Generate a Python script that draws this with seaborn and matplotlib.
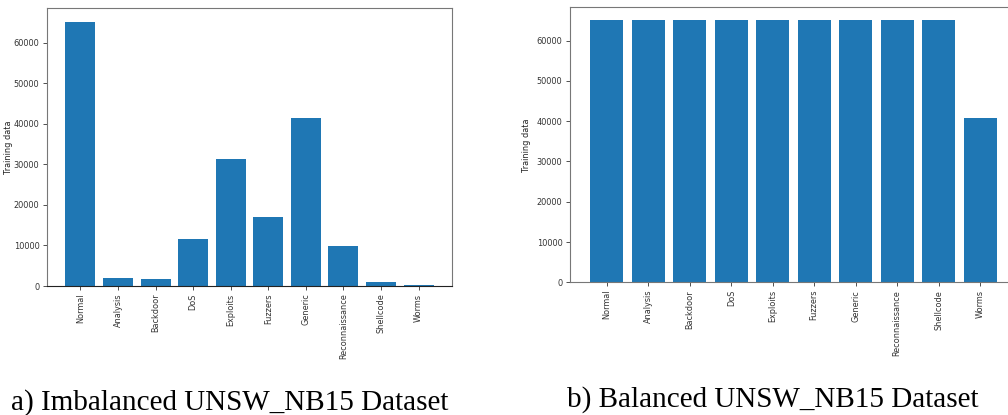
import matplotlib
matplotlib.use("Agg")
import matplotlib.pyplot as plt
import seaborn as sns
import pandas as pd

categories = ["Normal", "Analysis", "Backdoor", "DoS", "Exploits", "Fuzzers",
              "Generic", "Reconnaissance", "Shellcode", "Worms"]
imbalanced_counts = [65200, 1900, 1650, 11600, 31200, 17100, 41300, 9800, 1070, 170]
balanced_counts = [65000, 65000, 65000, 65000, 65000, 65000, 65000, 65000, 65000, 40900]
caption_a = "a) Imbalanced UNSW_NB15 Dataset"
caption_b = "b) Balanced UNSW_NB15 Dataset"
ylabel = "Training data"

BAR = "#1f77b4"

fig = plt.figure(figsize=(10.08, 4.15), dpi=100)
ax1 = fig.add_axes([47 / 1008, 1 - 286 / 415, 405 / 1008, (286 - 8.3) / 415])
ax2 = fig.add_axes([570 / 1008, 1 - 282.3 / 415, 447 / 1008, (282.3 - 7.3) / 415])


def draw(ax, values, label_x):
    df = pd.DataFrame({"category": categories, "count": values})
    sns.barplot(data=df, x="category", y="count", color=BAR, saturation=1,
                width=0.8, ax=ax, errorbar=None)
    n = len(categories)
    ax.set_xlim(-0.89, n - 1 + 0.89)
    ax.set_xlabel("")
    ax.set_ylabel(ylabel, fontsize=5.9, color="#222222")
    ax.yaxis.set_label_coords(label_x, 0.5)
    ax.tick_params(axis="both", labelsize=5.9, length=3, width=0.6,
                   colors="#333333", pad=2.5)
    ax.tick_params(axis="x", labelrotation=90)
    ax.set_yticks([0, 10000, 20000, 30000, 40000, 50000, 60000])
    for s in ax.spines.values():
        s.set_color("#777777")
        s.set_linewidth(0.8)


draw(ax1, imbalanced_counts, -0.085)
draw(ax2, balanced_counts, -0.088)
ax1.spines["bottom"].set_color("#222222")

fig.text(230 / 1008, 1 - 409.5 / 415, caption_a, ha="center", va="baseline",
         fontsize=21, family="Liberation Serif", color="black")
fig.text(772.5 / 1008, 1 - 406.7 / 415, caption_b, ha="center", va="baseline",
         fontsize=21, family="Liberation Serif", color="black")

fig.savefig("out.png", dpi=100)
